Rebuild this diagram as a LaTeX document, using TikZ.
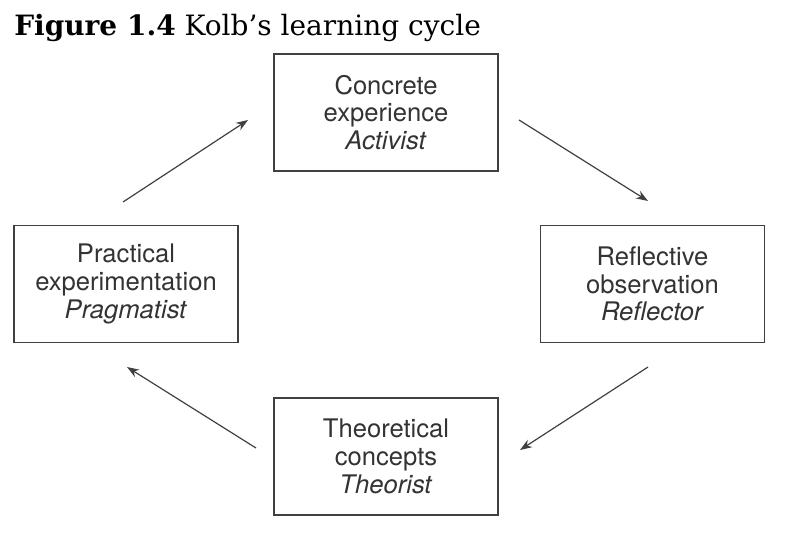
\documentclass[tikz,border=0pt]{standalone}
\usepackage{fontspec}
\setsansfont{TeX Gyre Heros}
\newfontfamily\titlefont{DejaVu Serif}
\usetikzlibrary{arrows.meta}

\begin{document}
\begin{tikzpicture}[x=0.75pt, y=-0.75pt, >={Stealth[length=9pt, width=6.5pt]},
    stage/.style={draw=black!75, line width=1.1pt, minimum width=168pt, minimum height=88pt, align=center, text=black!80, font=\sffamily\fontsize{19.2}{20.8}\selectfont},
    cyc/.style={->, draw=black!75, line width=0.9pt}]
  \useasboundingbox (0,0) rectangle (786,540);
  % title
  \node[anchor=base west, inner sep=0pt, font=\titlefont\fontsize{21}{24}\selectfont] (title) at (14,35) {\textbf{Figure 1.4} Kolb’s learning cycle};
  % the four stages of the cycle
  \node[stage] (ce) at (386,112.5) {Concrete\\ experience\\ \textit{Activist}};
  \node[stage] (ro) at (652.5,284) {Reflective\\ observation\\ \textit{Reflector}};
  \node[stage] (tc) at (386,456.5) {Theoretical\\ concepts\\ \textit{Theorist}};
  \node[stage] (pe) at (126,284) {Practical\\ experimentation\\ \textit{Pragmatist}};
  % free arrows between the boxes
  \coordinate (pe-out) at (123,202); \coordinate (ce-in) at (248,120);
  \coordinate (ce-out) at (519,120); \coordinate (ro-in) at (648,201);
  \coordinate (ro-out) at (648,367); \coordinate (tc-in) at (520,450);
  \coordinate (tc-out) at (256,448); \coordinate (pe-in) at (127,367);
  \foreach \a/\b in {pe-out/ce-in, ce-out/ro-in, ro-out/tc-in, tc-out/pe-in} {
    \draw[cyc] (\a) -- (\b);
  }
\end{tikzpicture}
\end{document}
